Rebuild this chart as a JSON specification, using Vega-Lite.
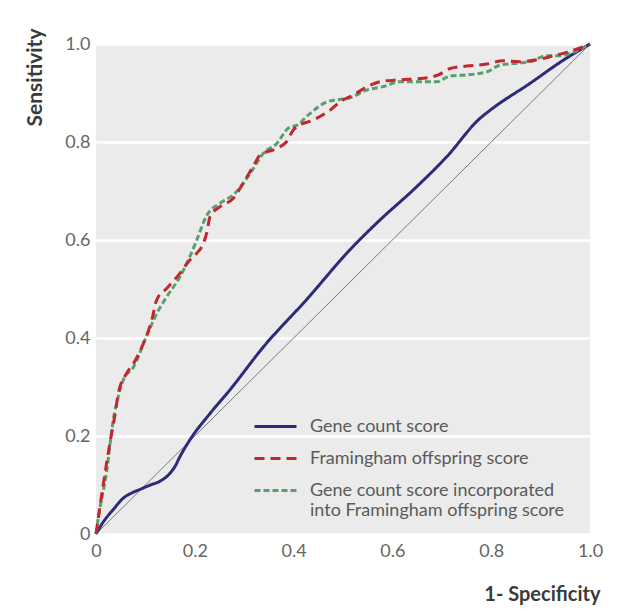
{
  "$schema": "https://vega.github.io/schema/vega-lite/v6.json",
  "width": 494,
  "height": 490,
  "autosize": "none",
  "padding": {"left": 96, "top": 44, "right": 47, "bottom": 81},
  "background": "white",
  "config": {
    "view": {"fill": "#ebebeb", "stroke": null},
    "font": "Lato",
    "axis": {"domain": false, "ticks": false, "labelFont": "Lato", "labelFontSize": 18, "labelColor": "#666666", "titleFont": "Lato", "titleFontSize": 20, "titleFontWeight": "bold", "titleColor": "#3a3a3a"}
  },
  "datasets": {
    "diag": [{"fpr": 0, "tpr": 0}, {"fpr": 1, "tpr": 1}],
    "roc": [
      {"series": "Gene count score", "fpr": 0, "tpr": 0},
      {"series": "Gene count score", "fpr": 0.015, "tpr": 0.025},
      {"series": "Gene count score", "fpr": 0.035, "tpr": 0.05},
      {"series": "Gene count score", "fpr": 0.055, "tpr": 0.073},
      {"series": "Gene count score", "fpr": 0.075, "tpr": 0.085},
      {"series": "Gene count score", "fpr": 0.089, "tpr": 0.091},
      {"series": "Gene count score", "fpr": 0.11, "tpr": 0.1},
      {"series": "Gene count score", "fpr": 0.13, "tpr": 0.108},
      {"series": "Gene count score", "fpr": 0.146, "tpr": 0.12},
      {"series": "Gene count score", "fpr": 0.16, "tpr": 0.138},
      {"series": "Gene count score", "fpr": 0.17, "tpr": 0.158},
      {"series": "Gene count score", "fpr": 0.19, "tpr": 0.192},
      {"series": "Gene count score", "fpr": 0.23, "tpr": 0.245},
      {"series": "Gene count score", "fpr": 0.271, "tpr": 0.294},
      {"series": "Gene count score", "fpr": 0.339, "tpr": 0.382},
      {"series": "Gene count score", "fpr": 0.426, "tpr": 0.478},
      {"series": "Gene count score", "fpr": 0.514, "tpr": 0.58},
      {"series": "Gene count score", "fpr": 0.575, "tpr": 0.641},
      {"series": "Gene count score", "fpr": 0.642, "tpr": 0.702},
      {"series": "Gene count score", "fpr": 0.71, "tpr": 0.77},
      {"series": "Gene count score", "fpr": 0.777, "tpr": 0.848},
      {"series": "Gene count score", "fpr": 0.798, "tpr": 0.865},
      {"series": "Gene count score", "fpr": 0.879, "tpr": 0.92},
      {"series": "Gene count score", "fpr": 0.946, "tpr": 0.967},
      {"series": "Gene count score", "fpr": 1, "tpr": 1},
      {"series": "Gene count score incorporated into Framingham offspring score", "fpr": 0, "tpr": 0},
      {"series": "Gene count score incorporated into Framingham offspring score", "fpr": 0.005, "tpr": 0.035},
      {"series": "Gene count score incorporated into Framingham offspring score", "fpr": 0.022, "tpr": 0.131},
      {"series": "Gene count score incorporated into Framingham offspring score", "fpr": 0.035, "tpr": 0.233},
      {"series": "Gene count score incorporated into Framingham offspring score", "fpr": 0.045, "tpr": 0.28},
      {"series": "Gene count score incorporated into Framingham offspring score", "fpr": 0.055, "tpr": 0.314},
      {"series": "Gene count score incorporated into Framingham offspring score", "fpr": 0.076, "tpr": 0.341},
      {"series": "Gene count score incorporated into Framingham offspring score", "fpr": 0.102, "tpr": 0.403},
      {"series": "Gene count score incorporated into Framingham offspring score", "fpr": 0.123, "tpr": 0.45},
      {"series": "Gene count score incorporated into Framingham offspring score", "fpr": 0.143, "tpr": 0.484},
      {"series": "Gene count score incorporated into Framingham offspring score", "fpr": 0.17, "tpr": 0.525},
      {"series": "Gene count score incorporated into Framingham offspring score", "fpr": 0.19, "tpr": 0.566},
      {"series": "Gene count score incorporated into Framingham offspring score", "fpr": 0.204, "tpr": 0.6},
      {"series": "Gene count score incorporated into Framingham offspring score", "fpr": 0.224, "tpr": 0.65},
      {"series": "Gene count score incorporated into Framingham offspring score", "fpr": 0.251, "tpr": 0.675},
      {"series": "Gene count score incorporated into Framingham offspring score", "fpr": 0.281, "tpr": 0.695},
      {"series": "Gene count score incorporated into Framingham offspring score", "fpr": 0.312, "tpr": 0.736},
      {"series": "Gene count score incorporated into Framingham offspring score", "fpr": 0.339, "tpr": 0.777},
      {"series": "Gene count score incorporated into Framingham offspring score", "fpr": 0.366, "tpr": 0.797},
      {"series": "Gene count score incorporated into Framingham offspring score", "fpr": 0.389, "tpr": 0.828},
      {"series": "Gene count score incorporated into Framingham offspring score", "fpr": 0.406, "tpr": 0.834},
      {"series": "Gene count score incorporated into Framingham offspring score", "fpr": 0.433, "tpr": 0.858},
      {"series": "Gene count score incorporated into Framingham offspring score", "fpr": 0.467, "tpr": 0.882},
      {"series": "Gene count score incorporated into Framingham offspring score", "fpr": 0.487, "tpr": 0.886},
      {"series": "Gene count score incorporated into Framingham offspring score", "fpr": 0.514, "tpr": 0.89},
      {"series": "Gene count score incorporated into Framingham offspring score", "fpr": 0.548, "tpr": 0.906},
      {"series": "Gene count score incorporated into Framingham offspring score", "fpr": 0.581, "tpr": 0.913},
      {"series": "Gene count score incorporated into Framingham offspring score", "fpr": 0.615, "tpr": 0.923},
      {"series": "Gene count score incorporated into Framingham offspring score", "fpr": 0.656, "tpr": 0.923},
      {"series": "Gene count score incorporated into Framingham offspring score", "fpr": 0.69, "tpr": 0.923},
      {"series": "Gene count score incorporated into Framingham offspring score", "fpr": 0.717, "tpr": 0.935},
      {"series": "Gene count score incorporated into Framingham offspring score", "fpr": 0.75, "tpr": 0.937},
      {"series": "Gene count score incorporated into Framingham offspring score", "fpr": 0.791, "tpr": 0.943},
      {"series": "Gene count score incorporated into Framingham offspring score", "fpr": 0.818, "tpr": 0.957},
      {"series": "Gene count score incorporated into Framingham offspring score", "fpr": 0.845, "tpr": 0.96},
      {"series": "Gene count score incorporated into Framingham offspring score", "fpr": 0.879, "tpr": 0.964},
      {"series": "Gene count score incorporated into Framingham offspring score", "fpr": 0.912, "tpr": 0.976},
      {"series": "Gene count score incorporated into Framingham offspring score", "fpr": 0.939, "tpr": 0.976},
      {"series": "Gene count score incorporated into Framingham offspring score", "fpr": 0.966, "tpr": 0.983},
      {"series": "Gene count score incorporated into Framingham offspring score", "fpr": 1, "tpr": 1},
      {"series": "Framingham offspring score", "fpr": 0, "tpr": 0},
      {"series": "Framingham offspring score", "fpr": 0.008, "tpr": 0.056},
      {"series": "Framingham offspring score", "fpr": 0.015, "tpr": 0.103},
      {"series": "Framingham offspring score", "fpr": 0.028, "tpr": 0.185},
      {"series": "Framingham offspring score", "fpr": 0.04, "tpr": 0.253},
      {"series": "Framingham offspring score", "fpr": 0.045, "tpr": 0.287},
      {"series": "Framingham offspring score", "fpr": 0.062, "tpr": 0.328},
      {"series": "Framingham offspring score", "fpr": 0.076, "tpr": 0.348},
      {"series": "Framingham offspring score", "fpr": 0.096, "tpr": 0.389},
      {"series": "Framingham offspring score", "fpr": 0.113, "tpr": 0.437},
      {"series": "Framingham offspring score", "fpr": 0.123, "tpr": 0.478},
      {"series": "Framingham offspring score", "fpr": 0.143, "tpr": 0.501},
      {"series": "Framingham offspring score", "fpr": 0.17, "tpr": 0.532},
      {"series": "Framingham offspring score", "fpr": 0.19, "tpr": 0.559},
      {"series": "Framingham offspring score", "fpr": 0.204, "tpr": 0.573},
      {"series": "Framingham offspring score", "fpr": 0.214, "tpr": 0.586},
      {"series": "Framingham offspring score", "fpr": 0.224, "tpr": 0.614},
      {"series": "Framingham offspring score", "fpr": 0.231, "tpr": 0.648},
      {"series": "Framingham offspring score", "fpr": 0.251, "tpr": 0.668},
      {"series": "Framingham offspring score", "fpr": 0.278, "tpr": 0.685},
      {"series": "Framingham offspring score", "fpr": 0.298, "tpr": 0.716},
      {"series": "Framingham offspring score", "fpr": 0.318, "tpr": 0.75},
      {"series": "Framingham offspring score", "fpr": 0.332, "tpr": 0.773},
      {"series": "Framingham offspring score", "fpr": 0.366, "tpr": 0.787},
      {"series": "Framingham offspring score", "fpr": 0.386, "tpr": 0.801},
      {"series": "Framingham offspring score", "fpr": 0.399, "tpr": 0.824},
      {"series": "Framingham offspring score", "fpr": 0.406, "tpr": 0.831},
      {"series": "Framingham offspring score", "fpr": 0.44, "tpr": 0.845},
      {"series": "Framingham offspring score", "fpr": 0.474, "tpr": 0.865},
      {"series": "Framingham offspring score", "fpr": 0.494, "tpr": 0.882},
      {"series": "Framingham offspring score", "fpr": 0.521, "tpr": 0.896},
      {"series": "Framingham offspring score", "fpr": 0.555, "tpr": 0.916},
      {"series": "Framingham offspring score", "fpr": 0.575, "tpr": 0.923},
      {"series": "Framingham offspring score", "fpr": 0.615, "tpr": 0.927},
      {"series": "Framingham offspring score", "fpr": 0.663, "tpr": 0.93},
      {"series": "Framingham offspring score", "fpr": 0.693, "tpr": 0.937},
      {"series": "Framingham offspring score", "fpr": 0.717, "tpr": 0.95},
      {"series": "Framingham offspring score", "fpr": 0.75, "tpr": 0.955},
      {"series": "Framingham offspring score", "fpr": 0.791, "tpr": 0.959},
      {"series": "Framingham offspring score", "fpr": 0.824, "tpr": 0.966},
      {"series": "Framingham offspring score", "fpr": 0.858, "tpr": 0.964},
      {"series": "Framingham offspring score", "fpr": 0.899, "tpr": 0.969},
      {"series": "Framingham offspring score", "fpr": 0.926, "tpr": 0.976},
      {"series": "Framingham offspring score", "fpr": 0.953, "tpr": 0.983},
      {"series": "Framingham offspring score", "fpr": 1, "tpr": 1}
    ]
  },
  "layer": [
    {
      "data": {"name": "diag"},
      "mark": {"type": "line", "color": "#7a7a7a", "strokeWidth": 1},
      "encoding": {
        "x": {"field": "fpr", "type": "quantitative", "scale": {"domain": [0, 1]}, "title": "1- Specificity",
          "axis": {"values": [0, 0.2, 0.4, 0.6, 0.8, 1], "grid": false, "labelExpr": "datum.value == 0 ? '0' : format(datum.value, '.1f')", "labelPadding": 8, "labelFlush": false, "titleX": 504, "titleY": 60, "titleAlign": "right", "titleBaseline": "middle", "titleAnchor": null}},
        "y": {"field": "tpr", "type": "quantitative", "scale": {"domain": [0, 1]}, "title": "Sensitivity",
          "axis": {"values": [0, 0.2, 0.4, 0.6, 0.8, 1], "grid": true, "gridColor": "white", "gridWidth": 2.5, "gridOpacity": 1, "labelExpr": "datum.value == 0 ? '0' : format(datum.value, '.1f')", "labelPadding": 6, "labelFlush": false, "titleFontSize": 21, "titleX": -61, "titleY": -16, "titleAngle": 270, "titleAlign": "right", "titleBaseline": "middle"}}
      }
    },
    {
      "data": {"name": "roc"},
      "mark": {"type": "line", "interpolate": "monotone", "strokeWidth": 3},
      "encoding": {
        "x": {"field": "fpr", "type": "quantitative"},
        "y": {"field": "tpr", "type": "quantitative"},
        "color": {"field": "series", "type": "nominal",
          "scale": {"domain": ["Gene count score", "Framingham offspring score", "Gene count score incorporated into Framingham offspring score"], "range": ["#2d2a7a", "#c1272d", "#5a9e70"]},
          "legend": {"title": null, "orient": "none", "legendX": 157, "legendY": 360, "symbolType": "stroke", "symbolSize": 1764, "symbolStrokeWidth": 3, "labelFont": "Lato", "labelFontSize": 18, "labelColor": "#5a5a5a", "labelOffset": 12, "labelLimit": 400, "rowPadding": -20,
            "labelExpr": "datum.label == 'Gene count score incorporated into Framingham offspring score' ? ['Gene count score incorporated', 'into Framingham offspring score'] : datum.label",
            "encode": {"labels": {"update": {"lineHeight": {"value": 20}}}}}},
        "strokeDash": {"field": "series", "type": "nominal",
          "scale": {"domain": ["Gene count score", "Framingham offspring score", "Gene count score incorporated into Framingham offspring score"], "range": [[1, 0], [10, 6], [6, 3]]},
          "legend": null},
        "order": {"field": "fpr", "type": "quantitative"}
      }
    }
  ]
}
